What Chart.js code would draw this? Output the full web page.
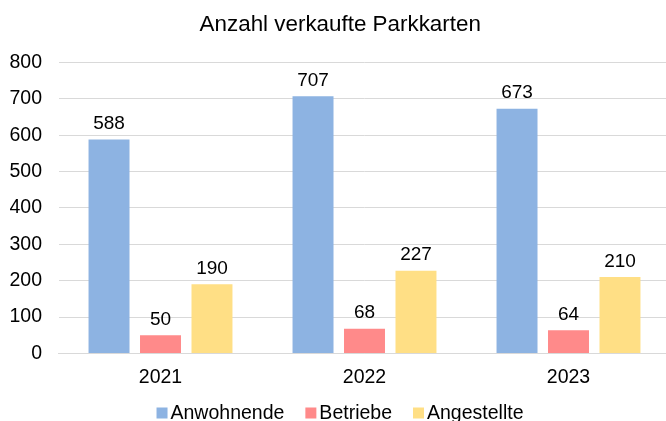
<!DOCTYPE html>
<html><head><meta charset="utf-8">
<script src="https://cdn.jsdelivr.net/npm/chart.js@4"></script>
<style>html,body{margin:0;padding:0;background:#fff;overflow:hidden}#w{width:682px;height:421px}</style>
</head><body><div id="w"><canvas id="c"></canvas></div>
<script>
const categories = ["2021", "2022", "2023"];
const anwohnende = [588, 707, 673];
const betriebe = [50, 68, 64];
const angestellte = [190, 227, 210];
const yTicks = [0, 100, 200, 300, 400, 500, 600, 700, 800];

const FONT = "'Liberation Sans', Arial, Helvetica, sans-serif";
const labelPlugin = {
  id: 'labels',
  afterDatasetsDraw(chart) {
    const ctx = chart.ctx;
    ctx.save();
    ctx.font = "19px " + FONT;
    ctx.fillStyle = "#000";
    ctx.textAlign = "center";
    ctx.textBaseline = "alphabetic";
    chart.data.datasets.forEach((ds, i) => {
      chart.getDatasetMeta(i).data.forEach((bar, j) => {
        ctx.fillText(String(ds.data[j]), bar.x, bar.y - 10.5);
      });
    });
    ctx.restore();
  }
};
const legendPlugin = {
  id: 'customLegend',
  afterDraw(chart) {
    const ctx = chart.ctx;
    ctx.save();
    ctx.font = "19.5px " + FONT;
    ctx.textBaseline = "middle";
    ctx.textAlign = "left";
    const box = 11, gapText = 3, gapItem = 21;
    const items = chart.data.datasets.map(ds => ({label: ds.label, color: ds.backgroundColor, w: ctx.measureText(ds.label).width}));
    let total = 0;
    items.forEach((it, i) => { total += box + gapText + it.w + (i < items.length - 1 ? gapItem : 0); });
    let x = 340 - total / 2;
    const cy = 413;
    items.forEach(it => {
      ctx.fillStyle = it.color;
      ctx.fillRect(x, cy - box / 2, box, box);
      ctx.fillStyle = "#000";
      ctx.fillText(it.label, x + box + gapText, cy + 1);
      x += box + gapText + it.w + gapItem;
    });
    ctx.restore();
  }
};

new Chart(document.getElementById('c'), {
  type: 'bar',
  data: {
    labels: categories,
    datasets: [
      {label: "Anwohnende", data: anwohnende, backgroundColor: "#8DB3E2"},
      {label: "Betriebe", data: betriebe, backgroundColor: "#FF8A8A"},
      {label: "Angestellte", data: angestellte, backgroundColor: "#FFDF85"}
    ]
  },
  options: {
    responsive: true, maintainAspectRatio: false, animation: false,
    layout: {padding: {left: 10, right: 11.5, top: 0, bottom: 19}},
    datasets: {bar: {categoryPercentage: 0.757, barPercentage: 0.796}},
    plugins: {
      title: {display: true, text: "Anzahl verkaufte Parkkarten", color: "#000",
        font: {family: FONT, size: 22.4, weight: 'normal'}, padding: {top: 11, bottom: 24.6}},
      legend: {display: false},
      tooltip: {enabled: false}
    },
    scales: {
      x: {grid: {display: false, drawTicks: false}, border: {color: "#d9d9d9"},
        ticks: {color: "#000", font: {family: FONT, size: 19.5}, padding: 12.6}},
      y: {min: 0, max: 800, afterBuildTicks(s){ s.ticks = yTicks.map(v => ({value: v})); },
        afterFit(s){ s.width = 48.5; },
        grid: {color: "#d9d9d9", drawTicks: false}, border: {display: false},
        ticks: {color: "#000", font: {family: FONT, size: 19.5}, padding: 16.5}}
    }
  },
  plugins: [labelPlugin, legendPlugin]
});
</script></body></html>
